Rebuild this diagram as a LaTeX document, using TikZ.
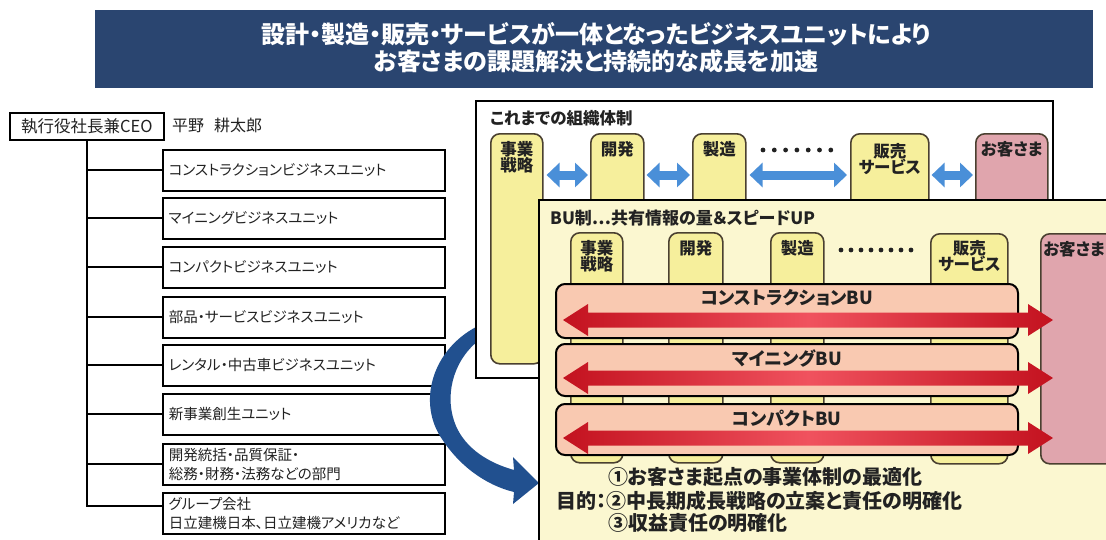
\documentclass[tikz,border=0pt]{standalone}
\usepackage{fontspec}
\setmainfont{Noto Sans CJK JP}[RawFeature=+palt]
\usetikzlibrary{arrows.meta}
\definecolor{bannerblue}{HTML}{2A4570}
\definecolor{colyellow}{HTML}{F6EF9C}
\definecolor{coledge}{HTML}{4A4030}
\definecolor{custpink}{HTML}{E0A5AD}
\definecolor{barfill}{HTML}{F9C9B1}
\definecolor{newfill}{HTML}{FBF7D0}
\definecolor{lightblue}{HTML}{4A8FD8}
\definecolor{curveblue}{HTML}{21508F}
\definecolor{rdark}{HTML}{C3121F}
\definecolor{rlight}{HTML}{F0525E}
\definecolor{txt}{HTML}{222222}
\newcommand\fsz[1]{\fontsize{#1}{#1}\selectfont}
\newcommand\redarrowshape[1]{\shade[left color=rdark,right color=rdark,middle color=rlight] (563,#1) -- (588,#1-16) -- (588,#1-7.5) -- (1028,#1-7.5) -- (1028,#1-16) -- (1053,#1) -- (1028,#1+16) -- (1028,#1+7.5) -- (588,#1+7.5) -- (588,#1+16) -- cycle;}
\begin{document}
\begin{tikzpicture}[x=1pt,y=-1pt,
  treebox/.style={draw, line width=1.5pt, fill=white, anchor=north west, text width=270pt, inner xsep=6pt, inner ysep=0pt, minimum height=41pt, align=left, font=\fontsize{14.5}{19}\selectfont, text=txt},
  conn/.style={line width=1.6pt},
  colbox/.style={draw=coledge, line width=1.6pt, fill=colyellow, rounded corners=9pt, anchor=north west, inner sep=0pt, minimum height=230pt},
  pinkbox/.style={colbox, fill=custpink},
  coltext/.style={font=\bfseries\fsz{16.5}, align=center, text=txt, anchor=north, inner sep=0pt},
  bigbox/.style={draw, line width=2pt, anchor=north west, inner sep=0pt},
  bar/.style={draw, line width=2pt, fill=barfill, rounded corners=9pt, minimum width=462pt, anchor=north west, inner sep=0pt},
  bartext/.style={font=\bfseries\fsz{18}, text=txt, inner sep=0pt},
  bluearr/.style={draw=lightblue, line width=9pt, {Triangle[width=24pt,length=13pt]}-{Triangle[width=24pt,length=13pt]}},
  goal/.style={font=\bfseries\fsz{20}, text=txt, anchor=west, inner sep=0pt},
  heading/.style={font=\bfseries\fsz{16.5}, text=txt, anchor=west, inner sep=0pt}
]
\path[use as bounding box] (0,0) rectangle (1106,539);
\clip (0,0) rectangle (1106,539);
\fill[white] (0,0) rectangle (1106,539);

% banner
\node[fill=bannerblue, minimum width=998pt, minimum height=78pt, anchor=north west, inner sep=0pt] (banner) at (95,10) {};
\node[font=\bfseries\fontsize{24}{27}\selectfont, text=white, align=center, inner sep=0pt] (title) at (596,47.5) {設計・製造・販売・サービスが一体となったビジネスユニットにより\\お客さまの課題解決と持続的な成長を加速};

% tree
\node[draw, line width=1.5pt, fill=white, minimum width=154pt, minimum height=27pt, anchor=north west, inner sep=0pt, font=\fsz{16.5}, text=txt] (ceo) at (9,112) {執行役社長兼CEO};
\node[anchor=west, inner sep=0pt, font=\fsz{16}, text=txt] (ceoname) at (172,125.5) {平野\hspace{10pt}耕太郎};
\node[treebox] (b1) at (162,149) {コンストラクションビジネスユニット};
\node[treebox] (b2) at (162,197) {マイニングビジネスユニット};
\node[treebox] (b3) at (162,246) {コンパクトビジネスユニット};
\node[treebox] (b4) at (162,296) {部品・サービスビジネスユニット};
\node[treebox] (b5) at (162,344) {レンタル・中古車ビジネスユニット};
\node[treebox] (b6) at (162,393) {新事業創生ユニット};
\node[treebox] (b7) at (162,443) {開発統括・品質保証・\\総務・財務・法務などの部門};
\node[treebox] (b8) at (162,492) {グループ会社\\日立建機日本、日立建機アメリカなど};
\foreach \b in {b1,b2,b3,b4,b5,b6,b7}{\draw[conn] (ceo.south) |- (\b.west);}
\draw[conn] (ceo.south) |- ([yshift=7pt]b8.west);

% curved arrow
\fill[curveblue] (476,327) .. controls (433,350) and (418,400) .. (440,436) .. controls (458,465) and (485,485) .. (514,492) -- (513,504) -- (539,483) -- (513,457) -- (514,470) .. controls (489,463) and (466,449) .. (456,426) .. controls (444,398) and (452,362) .. (478,341) -- cycle;

% old organisation
\node[bigbox, fill=white, minimum width=577pt, minimum height=277pt] (oldbox) at (475,100) {};
\node[heading] (oldtitle) at (490,118) {これまでの組織体制};
\node[colbox, minimum width=52pt] (oc1) at (490,133) {};
\node[colbox, minimum width=53pt] (oc2) at (590,133) {};
\node[colbox, minimum width=53pt] (oc3) at (692,133) {};
\node[colbox, minimum width=78pt] (oc4) at (850,133) {};
\node[pinkbox, minimum width=72pt] (oc5) at (975,133) {};
\node[coltext] (oc1t) at ([yshift=-8pt]oc1.north) {事業\\戦略};
\node[coltext] (oc2t) at ([yshift=-8pt]oc2.north) {開発};
\node[coltext] (oc3t) at ([yshift=-8pt]oc3.north) {製造};
\node[coltext] (oc4t) at ([yshift=-10pt]oc4.north) {販売\\サービス};
\node[coltext] (oc5t) at ([yshift=-8pt]oc5.north) {お客さま};
\coordinate (ay) at (0,175);
\draw[bluearr] ([xshift=3pt]oc1.east |- ay) -- ([xshift=-2pt]oc2.west |- ay);
\draw[bluearr] ([xshift=2pt]oc2.east |- ay) -- ([xshift=-2pt]oc3.west |- ay);
\draw[bluearr] ([xshift=3pt]oc3.east |- ay) -- ([xshift=-3pt]oc4.west |- ay);
\draw[bluearr] ([xshift=2pt]oc4.east |- ay) -- ([xshift=-2pt]oc5.west |- ay);
\foreach \i in {0,...,6}{\fill[txt] (763+\i*11.3,150) circle (2.4pt);}

% BU organisation
\node[bigbox, fill=newfill, minimum width=600pt, minimum height=360pt] (newbox) at (538,199) {};
\node[heading, font=\bfseries\fsz{17}] (newtitle) at (550,218) {BU制…共有情報の量＆スピードUP};
\node[colbox, minimum width=52pt] (nc1) at (570,232) {};
\node[colbox, minimum width=54pt] (nc2) at (668,232) {};
\node[colbox, minimum width=53pt] (nc3) at (770,232) {};
\node[colbox, minimum width=77pt] (nc4) at (930,233) {};
\node[pinkbox, minimum width=90pt] (nc5) at (1040,233) {};
\node[coltext] (nc1t) at ([yshift=-8pt]nc1.north) {事業\\戦略};
\node[coltext] (nc2t) at ([yshift=-8pt]nc2.north) {開発};
\node[coltext] (nc3t) at ([yshift=-8pt]nc3.north) {製造};
\node[coltext] (nc4t) at ([yshift=-7pt]nc4.north) {販売\\サービス};
\node[coltext, anchor=north west] (nc5t) at ([xshift=3pt,yshift=-8pt]nc5.north west) {お客さま};
\foreach \i in {0,...,7}{\fill[txt] (841+\i*10,250) circle (2.4pt);}

\node[bar, minimum height=54pt] (bu1) at (555,283) {};
\node[bar, minimum height=52pt] (bu2) at (555,343) {};
\node[bar, minimum height=51pt] (bu3) at (555,403) {};
\node[bartext] (bu1t) at ([yshift=-15pt]bu1.north) {コンストラクションBU};
\node[bartext] (bu2t) at ([yshift=-15pt]bu2.north) {マイニングBU};
\node[bartext] (bu3t) at ([yshift=-15pt]bu3.north) {コンパクトBU};
\redarrowshape{320}
\redarrowshape{378}
\redarrowshape{438}

\node[goal] (g2) at (556,501) {目的：②中長期成長戦略の立案と責任の明確化};
\node[goal] (g1) at (608,477) {①お客さま起点の事業体制の最適化};
\node[goal] (g3) at (608,523) {③収益責任の明確化};
\end{tikzpicture}
\end{document}
